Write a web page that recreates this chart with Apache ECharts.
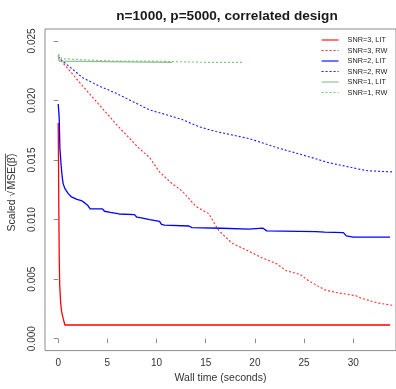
<!DOCTYPE html>
<html><head><meta charset="utf-8">
<script src="https://cdn.jsdelivr.net/npm/echarts@6/dist/echarts.min.js"></script>
<style>html,body{margin:0;padding:0;background:#fff}#c{width:396px;height:389px}</style>
</head><body><div id="c"></div>
<script>
const titleText = 'n=1000, p=5000, correlated design';
const xTitle = 'Wall time (seconds)';
const xTicks = [0, 5, 10, 15, 20, 25, 30];
const yTicks = [0, 0.005, 0.010, 0.015, 0.020, 0.025];
const seriesNames = ['SNR=3, LIT', 'SNR=3, RW', 'SNR=2, LIT', 'SNR=2, RW', 'SNR=1, LIT', 'SNR=1, RW'];

// [time (s), scaled sqrt(MSE)]
const snr3LIT = [[0,0.0181],[0.02,0.0160],[0.06,0.0110],[0.1,0.0070],[0.15,0.0045],[0.25,0.0030],[0.34,0.0023],[0.5,0.0017],[0.68,0.00115],[33.75,0.00115]];
const snr3RW = [[0,0.0236],[0.85,0.0228],[2.5,0.0212],[4.2,0.0196],[5.9,0.0180],[8.2,0.0160],[9.3,0.0152],[10.3,0.0140],[11.6,0.0130],[12.6,0.0124],[14.0,0.0111],[15.3,0.0105],[16.3,0.0091],[17.7,0.0080],[19.0,0.0075],[20.7,0.0068],[22.2,0.0063],[23.2,0.0057],[24.6,0.0054],[25.4,0.0049],[27.1,0.0041],[28.1,0.0039],[30.3,0.0036],[30.8,0.0034],[32.5,0.0030],[34.0,0.0028]];
const snr2LIT = [[0,0.0197],[0.05,0.0196],[0.1,0.0185],[0.17,0.0160],[0.3,0.0145],[0.4,0.0136],[0.5,0.0130],[0.68,0.0126],[1.0,0.0122],[1.35,0.0119],[1.9,0.0117],[2.35,0.0116],[2.7,0.0114],[3.0,0.0112],[3.25,0.0109],[4.5,0.0109],[4.7,0.0107],[5.3,0.0106],[6.2,0.01047],[7.75,0.01042],[8.0,0.0102],[8.45,0.01014],[9.3,0.0100],[10.3,0.00984],[10.5,0.0096],[10.8,0.00954],[13.3,0.00946],[13.6,0.00932],[16.6,0.00927],[19.4,0.00920],[19.6,0.00927],[20.8,0.00929],[21.2,0.00905],[26.2,0.00899],[27.1,0.00895],[29.0,0.00891],[29.3,0.00863],[30.0,0.00853],[33.75,0.00853]];
const snr2RW = [[0,0.0237],[0.3,0.0234],[1.2,0.0228],[2.5,0.0219],[4.2,0.0212],[5.9,0.0206],[7.6,0.0199],[9.3,0.0192],[11.0,0.0188],[12.6,0.0184],[14.3,0.0178],[16.0,0.0174],[17.7,0.0171],[19.4,0.0168],[22.4,0.0160],[24.1,0.0156],[25.8,0.0152],[27.4,0.0148],[29.1,0.0145],[30.8,0.0142],[31.5,0.0141],[34.0,0.0140]];
const snr1LIT = [[0,0.0238],[0.1,0.0233],[0.3,0.0232],[11.6,0.0232]];
const snr1RW = [[0,0.0239],[0.4,0.0235],[3.0,0.0234],[6.0,0.0233],[10.0,0.0233],[15.0,0.0232],[18.9,0.0232]];

const FONT = 'Liberation Sans, Arial, Helvetica, sans-serif';
const chart = echarts.init(document.getElementById('c'), null, {renderer: 'canvas'});

function mk(name, data, color, dotted, width) {
  return {
    name, type: 'line', data, symbol: 'none', showSymbol: false, animation: false,
    lineStyle: {color, width, type: dotted ? [2, 2] : 'solid'},
    itemStyle: {color}, z: 3
  };
}

// y axis title with radical + overline
const yLabA = 'Scaled ';
const yLabB = 'MSE(β̂)';
const ctx = document.createElement('canvas').getContext('2d');
ctx.font = '10.5px ' + FONT;
const wA = ctx.measureText(yLabA).width;
const wB = ctx.measureText(yLabB).width;
const wR = 7;
const total = wA + wR + wB;
const x0 = -total / 2;

chart.setOption({
  backgroundColor: '#fff',
  animation: false,
  title: {
    text: titleText, left: 222, top: 4, textAlign: 'center',
    textStyle: {fontFamily: FONT, fontSize: 13.6, fontWeight: 'bold', color: '#1a1a1a'}
  },
  grid: {left: 45, right: -2, top: 29, bottom: 33, show: true, borderColor: '#8c8c8c', borderWidth: 1},
  legend: {
    orient: 'vertical', left: 321, top: 36.5, padding: 0, itemWidth: 17, itemHeight: 7, itemGap: 3.5,
    data: seriesNames,
    itemStyle: {opacity: 0},
    lineStyle: {width: 1.1},
    textStyle: {fontFamily: FONT, fontSize: 7.3, color: '#222', padding: [0, 0, 0, 4]}
  },
  xAxis: {
    type: 'value', min: -1.345, max: 34.35,
    axisLine: {show: false},
    splitLine: {show: false},
    axisTick: {show: true, length: 4.5, customValues: xTicks, lineStyle: {color: '#8c8c8c'}},
    axisLabel: {customValues: xTicks, margin: 7.5, fontFamily: FONT, fontSize: 10, color: '#333'},
    name: xTitle, nameLocation: 'middle', nameGap: 21.5,
    nameTextStyle: {fontFamily: FONT, fontSize: 10.5, color: '#333'}
  },
  yAxis: {
    type: 'value', min: -0.001, max: 0.026,
    axisLine: {show: false},
    splitLine: {show: false},
    axisTick: {show: true, length: 4.5, customValues: yTicks, lineStyle: {color: '#8c8c8c'}},
    axisLabel: {customValues: yTicks, rotate: 90, margin: 8, fontFamily: FONT, fontSize: 10, color: '#333',
      formatter: v => v.toFixed(3)}
  },
  graphic: [{
    type: 'group', x: 12, y: 192.5, rotation: Math.PI / 2,
    children: [
      {type: 'text', x: x0, y: 0, style: {text: yLabA, font: '10.5px ' + FONT, fill: '#333', textAlign: 'left', textVerticalAlign: 'middle'}},
      {type: 'text', x: x0 + wA, y: 0.5, style: {text: '√', font: '10px ' + FONT, fill: '#333', textAlign: 'left', textVerticalAlign: 'middle'}},
      {type: 'line', shape: {x1: x0 + wA + wR - 1.5, y1: -6.5, x2: x0 + wA + wR + wB, y2: -6.5}, style: {stroke: '#333', lineWidth: 0.8}},
      {type: 'text', x: x0 + wA + wR, y: 0.5, style: {text: yLabB, font: '10.5px ' + FONT, fill: '#333', textAlign: 'left', textVerticalAlign: 'middle'}}
    ]
  }],
  series: [
    mk(seriesNames[0], snr3LIT, '#ff0000', false, 1.3),
    mk(seriesNames[1], snr3RW, '#ff2a2a', true, 1.1),
    mk(seriesNames[2], snr2LIT, '#0000ff', false, 1.3),
    mk(seriesNames[3], snr2RW, '#1a1aff', true, 1.1),
    mk(seriesNames[4], snr1LIT, '#8fbc8f', false, 1.3),
    mk(seriesNames[5], snr1RW, '#7cc47c', true, 1.1)
  ]
});
</script>
</body></html>
